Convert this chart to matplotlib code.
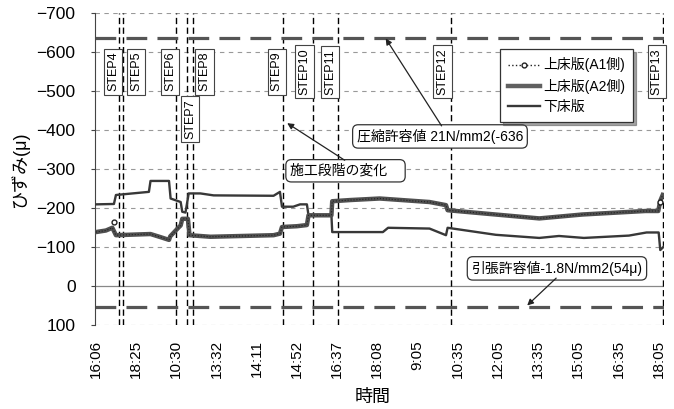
import numpy as np
import matplotlib
matplotlib.use('Agg')
import matplotlib.pyplot as plt
from matplotlib.lines import Line2D

plt.rcParams['font.family'] = ['Liberation Sans', 'Noto Sans CJK JP']

# x: position along time axis (1 = one tick interval)
time_labels = ['16:06', '18:25', '10:30', '13:32', '14:11', '14:52', '16:37', '18:08',
               '9:05', '10:35', '12:05', '13:35', '15:05', '16:35', '18:05']

# 下床版 (thin line)
low_t = [0.00, 0.45, 0.50, 1.32, 1.36, 1.82, 1.86, 2.11, 2.15, 2.23, 2.31, 2.60, 2.93,
         4.42, 4.58, 4.63, 4.91, 5.08, 5.25, 5.29, 5.86, 5.88, 7.14, 7.27, 8.30, 8.71,
         8.75, 9.95, 11.03, 11.52, 12.14, 13.26, 13.70, 14.00, 14.04, 14.12]
low_v = [-209, -210, -233, -241, -269, -269, -224, -215, -190, -188, -237, -237, -232,
         -231, -241, -203, -203, -209, -209, -181, -181, -138, -138, -149, -147, -130,
         -149, -131, -123, -128, -123, -129, -137, -137, -92, -100]

# 上床版(A2側) (thick band)
a2_t = [0.00, 0.25, 0.41, 0.50, 1.36, 1.61, 1.82, 1.85, 2.06, 2.11, 2.15, 2.29, 2.33,
        2.85, 4.42, 4.58, 4.63, 5.00, 5.25, 5.29, 5.86, 5.88, 6.32, 7.06, 8.30, 8.71,
        8.75, 11.03, 12.10, 13.67, 13.99, 14.04, 14.10]
a2_v = [-138, -142, -149, -130, -133, -125, -118, -127, -150, -155, -172, -172, -130,
        -126, -130, -134, -151, -153, -156, -181, -181, -217, -220, -224, -215, -207,
        -194, -173, -183, -192, -192, -218, -233]

# 上床版(A1側) visible points
a1_t = [0.45, 7.00, 14.04]
a1_v = [-164, np.nan, -215]

comp_limit = -636
tens_limit = 54

step_names = ['STEP4', 'STEP5', 'STEP6', 'STEP7', 'STEP8', 'STEP9', 'STEP10',
              'STEP11', 'STEP12', 'STEP13']
step_t = [0.58, 0.68, 2.00, 2.27, 2.42, 4.65, 5.41, 6.03, 8.84, 14.10]

fig = plt.figure(figsize=(6.74, 4.09), dpi=100)
ax = fig.add_axes([0.141, 0.2054, 0.844, 0.7636])

ax.set_xlim(-0.02, 14.13)
ax.set_ylim(100, -700)
ax.set_yticks(np.arange(-700, 101, 100))
ax.set_xticks(np.arange(len(time_labels)))
ax.set_xticklabels(time_labels, rotation=90, fontsize=11)
ax.tick_params(axis='x', length=0, pad=11)
ax.tick_params(axis='y', labelsize=12.5, length=3, pad=11, color='#444')

for s in ['top', 'right', 'bottom']:
    ax.spines[s].set_visible(False)
ax.spines['left'].set_color('#444')

for y in np.arange(-700, 101, 100):
    if y != 0:
        ax.axhline(y, color='#999', lw=0.8, ls=(0, (4, 4)), zorder=0)
ax.axhline(0, color='#888', lw=0.9, zorder=0)

for t in step_t:
    ax.axvline(t, color='black', lw=1.0, ls=(0, (4.5, 2.5)), zorder=1)

ax.axhline(comp_limit, color='#555', lw=2.3, ls=(0, (6.5, 3.2)), zorder=2)
ax.axhline(tens_limit, color='#555', lw=2.3, ls=(0, (6.5, 3.2)), zorder=2)

ax.plot(low_t, low_v, color='#383838', lw=1.7, zorder=3)
ax.plot(a2_t, a2_v, color='#505050', lw=3.2, zorder=3)
ax.plot(a2_t, a2_v, color='#222', lw=0.8, ls=':', zorder=3)
ax.plot(a1_t, a1_v, color='#222', lw=1, ls=':', marker='o', ms=3.5,
        mfc='white', mec='#222', zorder=4)

# step labels
label_t = [0.43, 1.00, 1.85, 2.35, 2.70, 4.50, 5.19, 5.83, 8.62, 13.95]
label_y = [-549, -549, -549, -428, -549, -549, -549, -549, -549, -549]
for name, t, y in zip(step_names, label_t, label_y):
    ax.text(t, y, name, rotation=90, fontsize=9, ha='center', va='center', zorder=5,
            bbox=dict(boxstyle='square,pad=0.25', fc='white', ec='#444', lw=0.8))

box = dict(boxstyle='round,pad=0.3,rounding_size=0.4', fc='white', ec='#333', lw=0.9)
arrow = dict(arrowstyle='-|>', color='#222', lw=0.9, mutation_scale=9,
             shrinkA=0, shrinkB=0)

ax.text(4.83, -295, '施工段階の変化　', fontsize=10, ha='left', va='center',
        bbox=box, zorder=6)
ax.annotate('', xy=(4.76, -417), xytext=(6.19, -322), arrowprops=arrow, zorder=6)

ax.text(8.56, -383, '圧縮許容値 21N/mm2(-636', fontsize=10, ha='center', va='center',
        bbox=box, zorder=6)
ax.annotate('', xy=(7.21, -634), xytext=(8.60, -410), arrowprops=arrow, zorder=6)

ax.text(11.47, -45, '引張許容値-1.8N/mm2(54μ)', fontsize=10, ha='center', va='center',
        bbox=box, zorder=6)
ax.annotate('', xy=(10.73, 50), xytext=(11.45, -20), arrowprops=arrow, zorder=6)

handles = [Line2D([0, 1, 2], [0, 0, 0], color='#222', lw=1, ls=':', marker='o', ms=3.5,
                  mfc='white', markevery=[1]),
           Line2D([], [], color='#606060', lw=3.2),
           Line2D([], [], color='#383838', lw=1.7)]
leg = ax.legend(handles, ['上床版(A1側)', '上床版(A2側)', '下床版'],
                loc='upper left', bbox_to_anchor=(500 / 674, 1 - 49 / 409),
                bbox_transform=fig.transFigure, fontsize=10, frameon=True,
                fancybox=False, shadow=True, edgecolor='#333', framealpha=1,
                handlelength=2.3, handletextpad=0.2, labelspacing=0.45,
                borderpad=0.6, borderaxespad=0)
leg.set_zorder(7)
leg.get_frame().set_linewidth(0.9)

fig.text(20 / 674, 1 - 170 / 409, 'ひずみ(μ)', rotation=90, fontsize=13,
         ha='center', va='center')
fig.text(373 / 674, 1 - 397 / 409, '時間', fontsize=13, ha='center', va='center')

fig.savefig('out.png', dpi=100)
